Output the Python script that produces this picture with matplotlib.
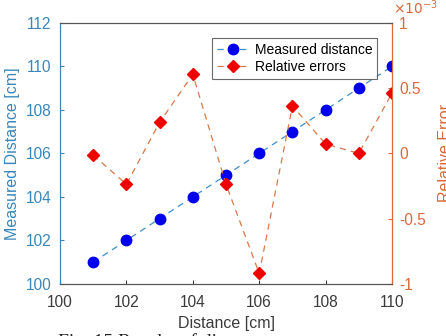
import matplotlib
matplotlib.use("Agg")
import matplotlib.pyplot as plt

plt.rcParams['font.family'] = ['Liberation Sans', 'DejaVu Sans']

distance = [101, 102, 103, 104, 105, 106, 107, 108, 109, 110]
measured = [101, 102, 103, 104, 105, 106, 107, 108, 109, 110]
rel_err = [-0.013, -0.237, 0.238, 0.605, -0.237, -0.92, 0.363, 0.072, 0.0, 0.462]  # x 1e-3

xticks = [100, 102, 104, 106, 108, 110]
lticks = [100, 102, 104, 106, 108, 110, 112]
rticks = [-1, -0.5, 0, 0.5, 1]
rticklabels = ['-1', '-0.5', '0', '0.5', '1']

blue_ax = '#3A86BA'
orange_ax = '#D9683A'
gray_txt = '#3A3A3A'

fig = plt.figure(figsize=(4.46, 3.36), dpi=100)
ax = fig.add_axes([0.1345, 0.155, 0.7445, 0.777])
ax2 = ax.twinx()

l1, = ax.plot(distance, measured, linestyle=(0, (5, 4)), color='#3D8FCF', lw=0.9,
              marker='o', markersize=7.5, markerfacecolor='#0000EE', markeredgecolor='#0000EE',
              label='Measured distance')
l2, = ax2.plot(distance, rel_err, linestyle=(0, (5, 4)), color='#D9784A', lw=0.9,
               marker='D', markersize=6, markerfacecolor='#EE0000', markeredgecolor='#EE0000',
               label='Relative errors')

ax.set_xlim(100, 110)
ax.set_ylim(100, 112)
ax2.set_ylim(-1, 1)
ax.set_xticks(xticks)
ax.set_yticks(lticks)
ax2.set_yticks(rticks)
ax2.set_yticklabels(rticklabels)

fs = 11.2
ax.tick_params(axis='x', direction='in', length=3, labelsize=fs, colors=gray_txt, top=False, pad=8)
ax.tick_params(axis='y', direction='in', length=3, labelsize=fs, colors=blue_ax, pad=6)
ax2.tick_params(axis='y', direction='in', length=3, labelsize=fs, colors=orange_ax, pad=5)

for s in ['top', 'bottom']:
    ax.spines[s].set_color('#555555')
    ax2.spines[s].set_color('#555555')
ax.spines['left'].set_color(blue_ax)
ax2.spines['left'].set_color(blue_ax)
ax2.spines['right'].set_color(orange_ax)
ax.spines['right'].set_color(orange_ax)
for a in (ax, ax2):
    for s in a.spines.values():
        s.set_linewidth(0.8)

ax.set_xlabel('Distance [cm]', fontsize=11.5, color=gray_txt, labelpad=4)
ax.set_ylabel('Measured Distance [cm]', fontsize=11.5, color=blue_ax, labelpad=4)
ax2.set_ylabel('Relative Error', fontsize=11.5, color=orange_ax, labelpad=9)

fig.text(0.879 + 0.002, 0.948, r'$\times10^{-3}$', color=orange_ax, fontsize=10,
         ha='left', va='bottom', math_fontfamily='dejavusans')

leg = ax.legend(handles=[l1, l2], loc='upper right', bbox_to_anchor=(0.955, 0.943),
                fontsize=10, frameon=True, fancybox=False, handlelength=2.3,
                borderpad=0.35, labelspacing=0.25, handletextpad=0.4, borderaxespad=0)
leg.get_frame().set_edgecolor('#444444')
leg.get_frame().set_linewidth(0.8)

fig.text(58 / 446, 3 / 336, 'Fig. 15 Results of distance', family='Liberation Serif',
         fontsize=14, ha='left', va='top', color='#222222')

fig.savefig('out.png', dpi=100)
